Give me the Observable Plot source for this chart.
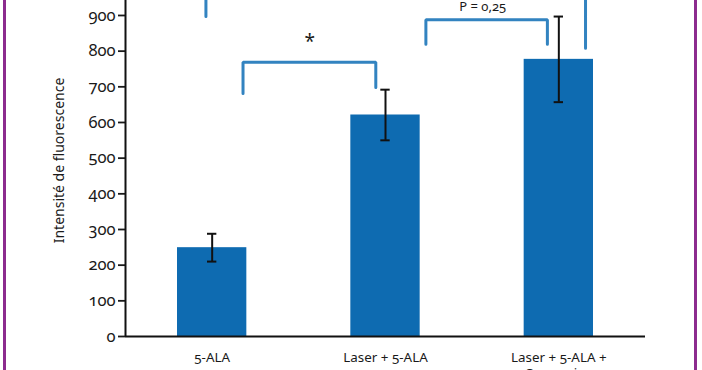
<!DOCTYPE html>
<html><head><meta charset="utf-8">
<script src="https://cdn.jsdelivr.net/npm/d3@7"></script>
<script src="https://cdn.jsdelivr.net/npm/@observablehq/plot@0.6"></script>
<style>
html,body{margin:0;padding:0;background:#fff;width:702px;height:370px;overflow:hidden}
#frame{position:relative;width:702px;height:370px}
.bl{position:absolute;top:0;height:370px;width:3px;background:#8c2b8e}
svg text{font-variant-numeric:oldstyle-nums;font-feature-settings:"onum"}
svg g[aria-label^="y-axis"] path, svg g[aria-label^="y-axis"] line{stroke-width:1.8px}
</style></head><body>
<div id="frame"><div id="chart"></div><div class="bl" style="left:3px"></div><div class="bl" style="left:694px"></div></div>
<script>
const categories = ["5-ALA", "Laser + 5-ALA", "Laser + 5-ALA +\nCurcumine"];
const means = [249, 621, 777];
const errors = [39, 71, 120];
const yTicks = [0, 100, 200, 300, 400, 500, 600, 700, 800, 900];
const yLabel = "Intensité de fluorescence";
const bracketLabels = ["*", "P = 0,25", ""];
const bracketLeft = [0.178, 1.233, -0.036];
const bracketRight = [0.944, 1.934, 2.154];
const bracketTop = [769, 888, 1000];
const bracketLeftEnd = [681, 819, 897];
const bracketRightEnd = [698, 819, 808];
const bracketLabelX = [0.563, 1.561];
const bracketLabelY = [825, 925];

const rows = categories.map((c, i) => ({i, cat: c, mean: means[i], lo: means[i] - errors[i], hi: means[i] + errors[i]}));
const bracketPts = [];
bracketLeft.forEach((x1, k) => {
  bracketPts.push({k, x: x1, y: bracketLeftEnd[k]});
  bracketPts.push({k, x: x1, y: bracketTop[k]});
  bracketPts.push({k, x: bracketRight[k], y: bracketTop[k]});
  bracketPts.push({k, x: bracketRight[k], y: bracketRightEnd[k]});
});
const labelRows = bracketLabelX.map((x, k) => ({x, y: bracketLabelY[k], text: bracketLabels[k]}));

const barColor = "#0e6bb1";
const bracketColor = "#3283c0";
const ink = "#1a1a1a";
const halfBar = 0.2, halfCap = 0.027;
const xMin = -0.5;

const plot = Plot.plot({
  width: 702, height: 370,
  marginLeft: 125, marginRight: 57, marginTop: 0, marginBottom: 34,
  style: {fontFamily: "'Noto Sans', 'Open Sans', sans-serif", fontSize: "14px", color: ink, overflow: "hidden", background: "#fff"},
  x: {type: "linear", domain: [xMin, 2.5], axis: null},
  y: {domain: [0, 942], ticks: yTicks, tickFormat: () => "", tickSize: 7, tickPadding: 3, label: null},
  marks: [
    Plot.rect(rows, {x1: d => d.i - halfBar, x2: d => d.i + halfBar, y1: 0, y2: "mean", fill: barColor}),
    Plot.ruleX(rows, {x: "i", y1: "lo", y2: "hi", stroke: "#111", strokeWidth: 2}),
    Plot.ruleY(rows, {y: "hi", x1: d => d.i - halfCap, x2: d => d.i + halfCap, stroke: "#111", strokeWidth: 2}),
    Plot.ruleY(rows, {y: "lo", x1: d => d.i - halfCap, x2: d => d.i + halfCap, stroke: "#111", strokeWidth: 2}),
    Plot.line(bracketPts, {x: "x", y: "y", z: "k", stroke: bracketColor, strokeWidth: 3, strokeLinejoin: "miter"}),
    Plot.text(labelRows, {x: "x", y: "y", text: "text", fontSize: d => d.text === "*" ? 19 : 13, fontWeight: d => d.text === "*" ? "bold" : "normal", fill: ink}),
    Plot.ruleY([0], {stroke: "#111", strokeWidth: 2}),
    Plot.ruleX([xMin], {stroke: "#111", strokeWidth: 2}),
    Plot.text(yTicks, {x: () => xMin, y: d => d, text: d => String(d), textAnchor: "end", dx: -10, fontSize: 16.5, fill: ink}),
    Plot.text(rows, {x: "i", y: 0, text: "cat", lineAnchor: "top", dy: 14, fontSize: 13.4, lineHeight: 1.2, fill: ink}),
    Plot.text([yLabel], {text: d => d, frameAnchor: "left", textAnchor: "middle", rotate: -90, dx: -66, dy: -8, fontSize: 14, fill: ink})
  ]
});
document.getElementById("chart").appendChild(plot);
</script>
</body></html>
